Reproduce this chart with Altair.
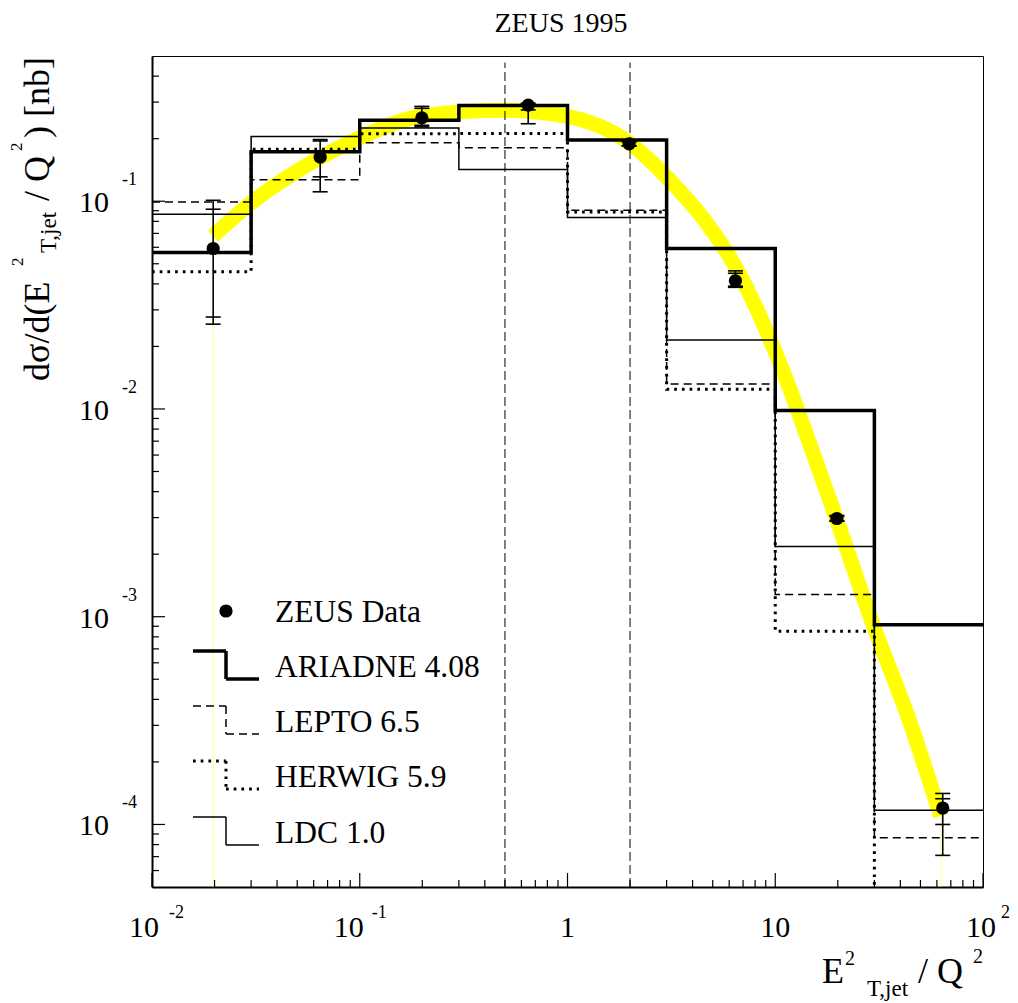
import altair as alt
import pandas as pd

FONT = "Liberation Serif, Times New Roman, serif"

# ---------------- values ----------------
BIN_EDGES = [0.01, 0.03, 0.1, 0.3, 1.0, 3.0, 10.0, 30.0, 100.0]
ARIADNE = [0.0567, 0.173, 0.245, 0.289, 0.197, 0.0592, 0.00982, 9.16e-4]
LEPTO = [0.0990, 0.127, 0.191, 0.181, 0.0905, 0.0132, 0.00128, 8.63e-5]
HERWIG = [0.0458, 0.178, 0.211, 0.212, 0.0888, 0.01244, 8.5e-4, 1e-6]  # last bin below axis range
LDC = [0.0866, 0.205, 0.225, 0.142, 0.0835, 0.0215, 0.00218, 1.17e-4]

DATA_X = [0.0197, 0.0645, 0.199, 0.647, 1.98, 6.43, 19.8, 64.0]
DATA_Y = [0.0592, 0.163, 0.252, 0.290, 0.189, 0.0414, 0.00297, 1.20e-4]
STAT_HI = [0.0915, 0.195, 0.280, 0.293, 0.193, 0.0450, 0.00304, 1.33e-4]
STAT_LO = [0.0277, 0.131, 0.232, 0.275, 0.185, 0.0390, 0.00290, 1.00e-4]
TOT_HI = [0.101, 0.198, 0.286, 0.296, 0.195, 0.0462, 0.00307, 1.41e-4]
TOT_LO = [0.0256, 0.111, 0.228, 0.236, 0.184, 0.0385, 0.00288, 7.1e-5]

BAND_X = [0.0197, 0.0299, 0.0649, 0.101, 0.197, 0.492, 0.993, 1.995, 3.005,
          4.68, 6.45, 10.85, 15.8, 19.7, 29.4, 44.3, 62.5]
BAND_Y = [0.068, 0.0978, 0.1627, 0.203, 0.2563, 0.2738, 0.2563, 0.1901, 0.1304,
          0.0784, 0.0482, 0.0154, 0.0055, 0.00296, 9.3e-4, 3.15e-4, 1.1e-4]

CUT_X = [0.5, 2.0]
CUT_TOP = 0.465

X_TICKS = [0.01, 0.1, 1, 10, 100]
X_BASE = ["10", "10", "1", "10", "10"]
X_EXP = ["-2", "-1", "", "", "2"]
Y_TICKS = [1e-1, 1e-2, 1e-3, 1e-4]
Y_EXP = ["-1", "-2", "-3", "-4"]

XMIN, XMAX = 0.01, 100.0
YMIN, YMAX = 5e-5, 0.5
W = H = 831

# ---------------- scales / helpers ----------------
xs = alt.Scale(type="log", domain=[XMIN, XMAX])
ys = alt.Scale(type="log", domain=[YMIN, YMAX])
xax = alt.Axis(title="", labels=False, ticks=False, grid=False,
               domainColor="black", domainWidth=2)
yax = alt.Axis(title="", labels=False, ticks=False, grid=False,
               domainColor="black", domainWidth=2)


def X(f):
    return alt.X(f, type="quantitative", scale=xs, axis=xax)


def Y(f):
    return alt.Y(f, type="quantitative", scale=ys, axis=yax)


ONE = pd.DataFrame({"k": [0]})
layers = []

# yellow band
band_df = pd.DataFrame({"x": BAND_X, "y": BAND_Y})
layers.append(alt.Chart(band_df).mark_line(
    color="#ffff00", strokeWidth=15, interpolate="monotone", strokeCap="butt"
).encode(x=X("x"), y=Y("y")))

ends_df = pd.DataFrame({"x": [BAND_X[0], BAND_X[-1]], "y": [BAND_Y[0], BAND_Y[-1]],
                        "y0": [YMIN, YMIN]})
layers.append(alt.Chart(ends_df).mark_rule(color="#ffff70", strokeWidth=1, opacity=0.7)
              .encode(x=X("x"), y=Y("y0"), y2=alt.Y2("y")))

# vertical dashed cut lines
cut_df = pd.DataFrame({"x": CUT_X, "lo": [YMIN] * len(CUT_X), "hi": [CUT_TOP] * len(CUT_X)})
layers.append(alt.Chart(cut_df).mark_rule(color="black", strokeWidth=1, strokeDash=[9, 4])
              .encode(x=X("x"), y=Y("lo"), y2=alt.Y2("hi")))

# histograms
HSTYLE = [
    (LDC, dict(strokeWidth=1.5)),
    (LEPTO, dict(strokeWidth=1.5, strokeDash=[8, 5])),
    (HERWIG, dict(strokeWidth=3, strokeDash=[2.7, 5], strokeCap="butt")),
    (ARIADNE, dict(strokeWidth=3.5)),
]
for vals, st in HSTYLE:
    hdf = pd.DataFrame({"x": BIN_EDGES, "y": list(vals) + [vals[-1]]})
    layers.append(alt.Chart(hdf).mark_line(
        color="black", interpolate="step-after", clip=True, **st
    ).encode(x=X("x"), y=Y("y")))

# data error bars
err_df = pd.DataFrame({"x": DATA_X, "lo": TOT_LO, "hi": TOT_HI})
layers.append(alt.Chart(err_df).mark_rule(color="black", strokeWidth=1.6)
              .encode(x=X("x"), y=Y("lo"), y2=alt.Y2("hi")))
caps_df = pd.DataFrame({"x": DATA_X * 4, "y": TOT_HI + TOT_LO + STAT_HI + STAT_LO})
layers.append(alt.Chart(caps_df).mark_point(
    shape="M-1,0L1,0", size=225, filled=False, color="black", strokeWidth=1.6, opacity=1
).encode(x=X("x"), y=Y("y")))

pts_df = pd.DataFrame({"x": DATA_X, "y": DATA_Y})
layers.append(alt.Chart(pts_df).mark_circle(size=175, color="black", opacity=1)
              .encode(x=X("x"), y=Y("y")))

# inward ticks
y_minor = [m * 10.0 ** e for e in range(-5, 0) for m in range(2, 10)
           if YMIN < m * 10.0 ** e < YMAX * 0.999]
x_minor = [m * 10.0 ** e for e in range(-2, 2) for m in range(2, 10)]
layers.append(alt.Chart(pd.DataFrame({"v": Y_TICKS})).mark_rule(color="black", strokeWidth=1.2)
              .encode(y=Y("v"), x=alt.value(0), x2=alt.value(13)))
layers.append(alt.Chart(pd.DataFrame({"v": y_minor})).mark_rule(color="black", strokeWidth=1.2)
              .encode(y=Y("v"), x=alt.value(0), x2=alt.value(7)))
layers.append(alt.Chart(pd.DataFrame({"v": X_TICKS})).mark_rule(color="black", strokeWidth=1.2)
              .encode(x=X("v"), y=alt.value(H), y2=alt.value(H - 14)))
layers.append(alt.Chart(pd.DataFrame({"v": x_minor})).mark_rule(color="black", strokeWidth=1.2)
              .encode(x=X("v"), y=alt.value(H), y2=alt.value(H - 7)))

# x tick labels
XL_DX = [(-8, 17), (-11, 12), (0, 0), (0, 0), (-2, 18)]
for v, b, e, (bdx, edx) in zip(X_TICKS, X_BASE, X_EXP, XL_DX):
    d = pd.DataFrame({"x": [v], "y": [YMIN]})
    layers.append(alt.Chart(d).mark_text(
        text=b, font=FONT, fontSize=30, align="center", baseline="alphabetic",
        dx=bdx, dy=50, color="black"
    ).encode(x=X("x"), y=Y("y")))
    if e:
        layers.append(alt.Chart(d).mark_text(
            text=e, font=FONT, fontSize=18, align="left", baseline="alphabetic",
            dx=edx, dy=31, color="black"
        ).encode(x=X("x"), y=Y("y")))

# y tick labels
yl_df = pd.DataFrame({"x": [XMIN] * len(Y_TICKS), "y": Y_TICKS, "e": Y_EXP})
layers.append(alt.Chart(yl_df).mark_text(
    text="10", font=FONT, fontSize=30, align="right", baseline="alphabetic",
    dx=-43, dy=11, color="black"
).encode(x=X("x"), y=Y("y")))
layers.append(alt.Chart(yl_df).mark_text(
    font=FONT, fontSize=18, align="left", baseline="alphabetic",
    dx=-30, dy=-16, color="black"
).encode(x=X("x"), y=Y("y"), text="e:N"))

# legend
LFS = 31.5
layers.append(alt.Chart(ONE).mark_circle(size=175, color="black", opacity=1)
              .encode(x=alt.value(74), y=alt.value(555)))
layers.append(alt.Chart(ONE).mark_text(
    text="ZEUS Data", font=FONT, fontSize=LFS, align="left", baseline="alphabetic", color="black"
).encode(x=alt.value(123), y=alt.value(566)))
LEG = [
    ("ARIADNE 4.08", 595, dict(strokeWidth=3.5)),
    ("LEPTO 6.5", 650, dict(strokeWidth=1.5, strokeDash=[8, 5])),
    ("HERWIG 5.9", 705, dict(strokeWidth=3, strokeDash=[2.7, 5], strokeCap="butt")),
    ("LDC 1.0", 761, dict(strokeWidth=1.5)),
]
for label, y0, st in LEG:
    y1 = y0 + 28
    layers.append(alt.Chart(ONE).mark_rule(color="black", **st)
                  .encode(x=alt.value(41), x2=alt.value(74), y=alt.value(y0)))
    layers.append(alt.Chart(ONE).mark_rule(color="black", **st)
                  .encode(x=alt.value(74), y=alt.value(y0), y2=alt.value(y1)))
    layers.append(alt.Chart(ONE).mark_rule(color="black", **st)
                  .encode(x=alt.value(74), x2=alt.value(107), y=alt.value(y1)))
    layers.append(alt.Chart(ONE).mark_text(
        text=label, font=FONT, fontSize=LFS, align="left", baseline="alphabetic", color="black"
    ).encode(x=alt.value(123), y=alt.value(y1 - 2)))

# title
layers.append(alt.Chart(ONE).mark_text(
    text="ZEUS 1995", font=FONT, fontSize=28, align="center", baseline="alphabetic", color="black"
).encode(x=alt.value(409), y=alt.value(-24)))

# x axis title pieces
XT = [("E", 670, 927, 36), ("2", 693, 909, 20), ("T,jet", 715, 940, 23),
      ("/ Q", 766, 927, 36), ("2", 821, 907, 20)]
for t, x, y, s in XT:
    layers.append(alt.Chart(ONE).mark_text(
        text=t, font=FONT, fontSize=s, align="left", baseline="alphabetic", color="black"
    ).encode(x=alt.value(x), y=alt.value(y)))

# y axis title pieces (rotated)
YT = [("d\u03c3/d(E", -103, 325, 36), ("2", -129, 210, 17), ("T,jet", -96, 197, 23),
      ("/ Q", -103, 145, 36), ("2", -130, 95, 17), (") [nb]", -103, 82, 36)]
for t, x, y, s in YT:
    layers.append(alt.Chart(ONE).mark_text(
        text=t, font=FONT, fontSize=s, align="left", baseline="alphabetic",
        angle=270, color="black"
    ).encode(x=alt.value(x), y=alt.value(y)))

chart = alt.layer(*layers).properties(
    width=W, height=H,
    autosize=alt.AutoSizeParams(type="none"),
    padding={"left": 144, "top": 48, "right": 27, "bottom": 115},
    background="white",
).configure_view(stroke="black", strokeWidth=1)

chart.save("out.html", embed_options={"renderer": "svg", "actions": False})
